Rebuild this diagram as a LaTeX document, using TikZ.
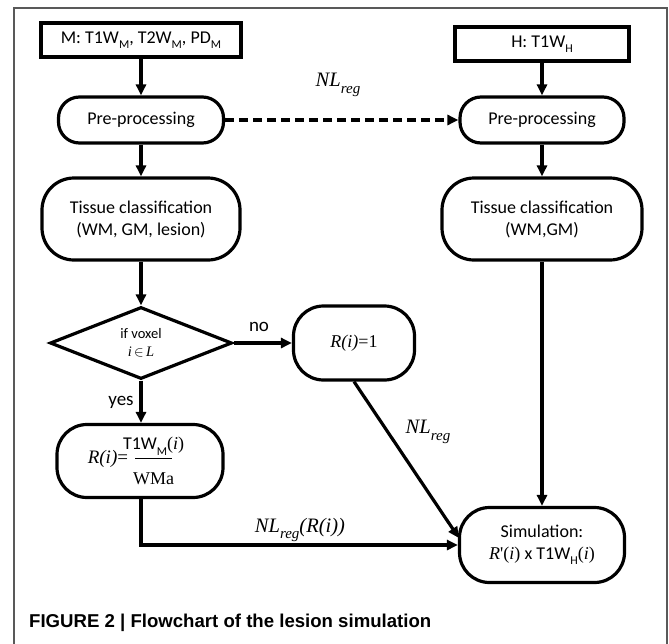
\documentclass[tikz,border=0pt]{standalone}
\usepackage{fontspec}
\setmainfont{Carlito}
\newfontfamily\tnr{Liberation Serif}
\newfontfamily\capfont{Liberation Sans}
\usetikzlibrary{arrows.meta,shapes.geometric,calc}
\newcommand{\sbs}[1]{\raisebox{-0.28em}{\fontsize{12}{12}\selectfont #1}}
\newcommand{\regsub}{\raisebox{-0.32em}{\fontsize{15}{15}\selectfont reg}}
\newcommand{\nlreg}{{\tnr\itshape\fontsize{20.5}{22}\selectfont NL\regsub}}
\begin{document}
\begin{tikzpicture}[x=1pt,y=-1pt,
  every node/.style={font=\fontsize{18}{22}\selectfont, inner sep=0pt, align=center},
  sqbox/.style={draw, line width=3.2pt, minimum height=34pt},
  rbox/.style={draw, line width=3.2pt},
  arr/.style={-{Triangle[length=11pt,width=10pt]}, line width=3.2pt},
  lbl/.style={font=\fontsize{19}{22}\selectfont},
  frame/.style={draw=black!65, line width=1.3pt}
]
\useasboundingbox (0,0) rectangle (669,643);
\fill[white] (0,0) rectangle (669,643);
\draw[frame] (14,660) -- (14,8) -- (667,8) -- (667,660);

% left column
\node[sqbox, minimum width=200pt] (m) at (141,40) {M: T1W\sbs{M}, T2W\sbs{M}, PD\sbs{M}};
\node[rbox, rounded corners=21pt, minimum width=165pt, minimum height=46pt] (pl) at (141,120) {Pre-processing};
\node[rbox, rounded corners=32pt, minimum width=198pt, minimum height=82pt] (tl) at (141,219) {Tissue classification\\(WM, GM, lesion)};
\node[draw, diamond, line width=3.2pt, minimum width=182pt, minimum height=72pt, aspect=2.5, font=\fontsize{14.5}{18}\selectfont] (d) at (141,343) {if voxel\\{\tnr\itshape i}$\,\in\,${\tnr\itshape L}};
\node[rbox, rounded corners=30pt, minimum width=166pt, minimum height=73pt] (rb) at (140,461)
  {{\tnr\itshape\fontsize{19}{22}\selectfont R(i)\upshape=}\hspace{-5pt}\raisebox{-21pt}{\renewcommand\arraystretch{0}\setlength\tabcolsep{0pt}\begin{tabular}[b]{c}T1W\sbs{M}{\tnr(\itshape i\upshape)}\rule[-8pt]{0pt}{20pt}\\\rule{37pt}{1.3pt}\\\rule{0pt}{25pt}{\tnr\fontsize{18}{18}\selectfont WMa}\end{tabular}}\hspace{8pt}};

% middle
\node[rbox, rounded corners=30pt, minimum width=121pt, minimum height=74pt] (r1) at (354,343) {{\tnr\itshape R(i)}{\tnr =1}};

% right column
\node[sqbox, minimum width=174pt] (h) at (542,44) {H: T1W\sbs{H}};
\node[rbox, rounded corners=21pt, minimum width=164pt, minimum height=46pt] (pr) at (542,120) {Pre-processing};
\node[rbox, rounded corners=32pt, minimum width=200pt, minimum height=82pt] (tr) at (542,219) {Tissue classification\\(WM,GM)};
\node[rbox, rounded corners=30pt, minimum width=165pt, minimum height=75pt] (sim) at (542,545) {Simulation:\\{\tnr\itshape R}{\tnr'(\itshape i\upshape)} x T1W\sbs{H}{\tnr(\itshape i\upshape)}};

% labels
\node (lab1) at (338,85) {\nlreg};
\node[lbl] (no) at (259,327) {no};
\node[lbl] (yes) at (121,402) {yes};
\node (lab2) at (428,432) {\nlreg};
\node (lab3) at (300,530) {{\tnr\itshape\fontsize{20.5}{22}\selectfont NL\regsub(R(i))}};

% connectors
\draw[arr] (m.south) -- (pl.north);
\draw[arr] (h.south) -- (pr.north);
\draw[arr] (pl.south) -- (tl.north);
\draw[arr] (pr.south) -- (tr.north);
\draw[arr, line width=3.6pt, dash pattern=on 9pt off 5pt] (pl.east) -- (pr.west);
\draw[arr] (tl.south) -- (d.north);
\draw[arr] (tr.south) -- (sim.north);
\draw[arr] (d.east) -- (r1.west);
\draw[arr] (d.south) -- (d.south |- rb.north);
\coordinate (simin) at ($(sim.west)+(1,-7)$);
\draw[arr] (r1.south) -- (simin);
\draw[arr] (d.south |- rb.south) |- (sim.west);

% caption
\node[anchor=west, font=\capfont\bfseries\fontsize{18.6}{20}\selectfont] (cap) at (29,623) {FIGURE 2 | Flowchart of the lesion simulation};
\end{tikzpicture}
\end{document}
